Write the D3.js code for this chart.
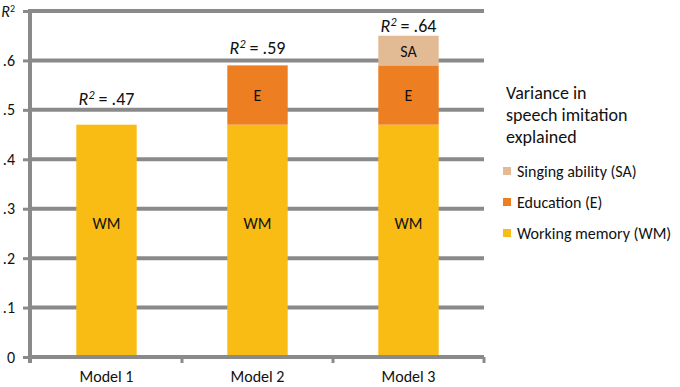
<!DOCTYPE html>
<html>
<head>
<meta charset="utf-8">
<script src="https://cdn.jsdelivr.net/npm/d3@7"></script>
<style>
  html, body { margin: 0; padding: 0; background: #fff; }
  svg text { font-family: Carlito, Lato, "Open Sans", sans-serif; fill: #111; }
</style>
</head>
<body>
<div class="chart"></div>
<script>
const WIDTH = 680;
const HEIGHT = 387;

// data
var models = ["Model 1", "Model 2", "Model 3"];
var wm = [0.47, 0.47, 0.47];
var edu = [0, 0.12, 0.12];
var sa = [0, 0, 0.06];
var r2Labels = [".47", ".59", ".64"];
var yTicks = [0, 0.1, 0.2, 0.3, 0.4, 0.5, 0.6, 0.7];
var yTickLabels = ["0", ".1", ".2", ".3", ".4", ".5", ".6", "R²"];
var legendNames = ["Singing ability (SA)", "Education (E)", "Working memory (WM)"];
var legendKeys = ["sa", "edu", "wm"];
var segLabels = {wm: "WM", edu: "E", sa: "SA"};

var colors = {wm: "#F8BC14", edu: "#EE7E22", sa: "#E2BB94"};
var GRID = "#8a8a8a";
// gap (px) between bar top and its R² label, as placed in the original
var LABEL_GAP = [20, 11, 4];

var translate = function (x, y) {
    return "translate(" + x + "," + y + ")";
};

var _svg = d3.select('.chart').append('svg')
    .attr('width', WIDTH)
    .attr('height', HEIGHT);

var _xScale = d3.scaleBand()
    .domain(models)
    .range([31, 484])
    .paddingInner(0.6)
    .paddingOuter(0.3);

var _yScale = d3.scaleLinear()
    .domain([0, 0.7])
    .range([357, 11]);

// gridlines
_svg.append('g').selectAll('line').data(yTicks.slice(1))
    .enter().append('line')
    .attr('x1', 31).attr('x2', 484)
    .attr('y1', d => _yScale(d)).attr('y2', d => _yScale(d))
    .attr('stroke', GRID).attr('stroke-width', 4);

// y axis
var yAxis = d3.axisLeft(_yScale)
    .tickValues(yTicks)
    .tickSize(7)
    .tickFormat((d, i) => yTickLabels[i]);

var yg = _svg.append('g')
    .attr('transform', translate(30, 0))
    .call(yAxis);
yg.select('.domain').remove();
yg.selectAll('.tick line').attr('stroke', GRID).attr('stroke-width', 3);
yg.selectAll('.tick text')
    .attr('x', -15)
    .style('font-size', '16px')
    .filter((d, i) => i === yTicks.length - 1)
    .text(null)
    .call(t => {
        t.append('tspan').attr('font-style', 'italic').text('R');
        t.append('tspan').attr('font-size', '10px').attr('dy', -5).text('2');
    });

_svg.append('line')
    .attr('x1', 30).attr('x2', 30)
    .attr('y1', _yScale(0.7) - 2).attr('y2', _yScale(0) + 6)
    .attr('stroke', GRID).attr('stroke-width', 4);

// stacked bars
var rows = models.map((m, i) => ({model: m, wm: wm[i], edu: edu[i], sa: sa[i]}));
var stack = d3.stack().keys(["wm", "edu", "sa"]);
var series = stack(rows);

var barG = _svg.append('g');
series.forEach(function (s) {
    var key = s.key;
    var g = barG.append('g');
    var segs = s.filter(d => d[1] - d[0] > 0);
    g.selectAll('rect').data(segs)
        .enter().append('rect')
        .attr('x', d => _xScale(d.data.model))
        .attr('width', _xScale.bandwidth())
        .attr('y', d => _yScale(d[1]))
        .attr('height', d => _yScale(d[0]) - _yScale(d[1]))
        .attr('fill', colors[key]);
    g.selectAll('text').data(segs)
        .enter().append('text')
        .attr('x', d => _xScale(d.data.model) + _xScale.bandwidth() / 2)
        .attr('y', d => _yScale((d[0] + d[1]) / 2) + (key === 'wm' ? -12 : 6))
        .attr('text-anchor', 'middle')
        .style('font-size', '16px')
        .text(segLabels[key]);
});

// x axis (bottom)
_svg.append('line')
    .attr('x1', 30).attr('x2', 484)
    .attr('y1', _yScale(0)).attr('y2', _yScale(0))
    .attr('stroke', GRID).attr('stroke-width', 4);

var step = _xScale.step();
_svg.append('g').selectAll('line').data(models)
    .enter().append('line')
    .attr('x1', d => _xScale(d) + _xScale.bandwidth() / 2 + step / 2)
    .attr('x2', d => _xScale(d) + _xScale.bandwidth() / 2 + step / 2)
    .attr('y1', _yScale(0)).attr('y2', _yScale(0) + 6)
    .attr('stroke', GRID).attr('stroke-width', 3);

_svg.append('g').selectAll('text').data(models)
    .enter().append('text')
    .attr('x', d => _xScale(d) + _xScale.bandwidth() / 2)
    .attr('y', 382)
    .attr('text-anchor', 'middle')
    .style('font-size', '16px')
    .text(d => d);

// R² totals
_svg.append('g').selectAll('text').data(rows)
    .enter().append('text')
    .attr('x', d => _xScale(d.model) + _xScale.bandwidth() / 2)
    .attr('y', (d, i) => _yScale(d.wm + d.edu + d.sa) - LABEL_GAP[i])
    .attr('text-anchor', 'middle')
    .style('font-size', '18px')
    .each(function (d, i) {
        var t = d3.select(this);
        t.append('tspan').attr('font-style', 'italic').text('R');
        t.append('tspan').attr('font-style', 'italic').attr('font-size', '12px').attr('dy', -6).text('2');
        t.append('tspan').attr('dy', 6).text(' = ' + r2Labels[i]);
    });

// legend
var title = ["Variance in", "speech imitation", "explained"];
_svg.append('g').selectAll('text').data(title)
    .enter().append('text')
    .attr('x', 506)
    .attr('y', (d, i) => 99 + i * 22)
    .style('font-size', '18px')
    .text(d => d);

var lg = _svg.append('g').selectAll('g').data(legendKeys)
    .enter().append('g')
    .attr('transform', (d, i) => translate(503, 167 + i * 31));
lg.append('rect')
    .attr('width', 8).attr('height', 8)
    .attr('fill', d => colors[d]);
lg.append('text')
    .attr('x', 14).attr('y', 9.5)
    .style('font-size', '16px')
    .text((d, i) => legendNames[i]);
</script>
</body>
</html>
